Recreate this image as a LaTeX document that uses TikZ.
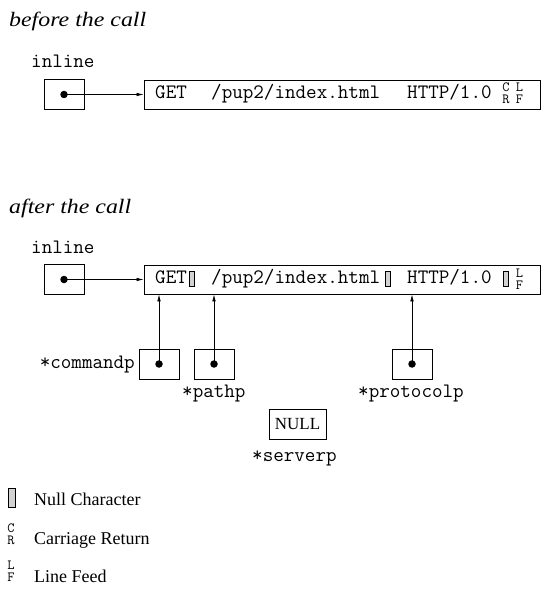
\documentclass[tikz,border=0pt]{standalone}
\usepackage{fontspec}
\setmainfont{Liberation Serif}
\usetikzlibrary{arrows.meta}
\begin{document}
\begin{tikzpicture}[x=1pt,y=-1pt,
 box/.style={draw, line width=0.8pt, inner sep=0},
 ptrbox/.style={box, minimum width=40pt, minimum height=30pt},
 ptrdot/.style={circle, fill, inner sep=0, minimum size=7.5pt},
 mono/.style={font=\fontsize{20.5}{22}\selectfont\ttfamily, inner sep=0, anchor=base west},
 tinyl/.style={font=\fontsize{14}{12}\selectfont\ttfamily, inner sep=0, align=center},
 head/.style={font=\fontsize{20.5}{24}\selectfont\itshape, inner sep=0, anchor=base west},
 legend/.style={font=\fontsize{18}{20}\selectfont, inner sep=0, anchor=base west},
 nullch/.style={draw, line width=0.5pt, fill=gray!35, inner sep=0, minimum width=5pt, minimum height=15pt},
 arr/.style={-{Latex[length=7pt,width=3.5pt]}, line width=0.6pt}]
\useasboundingbox (0,0) rectangle (551,601);
% before the call
\node[head] (h1) at (9,27) {\scalebox{1.165}[1]{before the call}};
\node[mono] (il1) at (31,68) {inline};
\node[ptrbox] (in1) at (64,94.5) {};
\node[ptrdot] (d1) at (in1.center) {};
\node[box, minimum width=396pt, minimum height=29pt] (s1) at (342,94.5) {};
\draw[arr] (d1.center) -- (d1.center -| s1.west);
\node[mono] (g1) at (155,98.5) {GET};
\node[mono] (p1) at (211,98.5) {/pup2/index.html};
\node[mono] (h1t) at (407,98.5) {HTTP/1.0};
\node[tinyl] (cr1) at (506,93.5) {C\\R};
\node[tinyl] (lf1) at (519.5,93.5) {L\\F};
% after the call
\node[head] (h2) at (9,214) {\scalebox{1.165}[1]{after the call}};
\node[mono] (il2) at (31,254) {inline};
\node[ptrbox] (in2) at (64,279.5) {};
\node[ptrdot] (d2) at (in2.center) {};
\node[box, minimum width=396pt, minimum height=29pt] (s2) at (342,279.5) {};
\draw[arr] (d2.center) -- (d2.center -| s2.west);
\node[mono] (g2) at (155,283.5) {GET};
\node[nullch] (n1) at (191.5,278.5) {};
\node[mono] (p2) at (211,283.5) {/pup2/index.html};
\node[nullch] (n2) at (387.5,278.5) {};
\node[mono] (h2t) at (407,283.5) {HTTP/1.0};
\node[nullch] (n3) at (505.5,278.5) {};
\node[tinyl] (lf2) at (519.5,279) {L\\F};
% pointers
\node[ptrbox] (cb) at (159,364) {};
\node[ptrdot] (cd) at (cb.center) {};
\node[ptrbox] (pb) at (214,364) {};
\node[ptrdot] (pd) at (pb.center) {};
\node[ptrbox] (qb) at (412,364) {};
\node[ptrdot] (qd) at (qb.center) {};
\draw[arr] (cd.center) -- (cd.center |- s2.south);
\draw[arr] (pd.center) -- (pd.center |- s2.south);
\draw[arr] (qd.center) -- (qd.center |- s2.south);
\node[mono, anchor=base east] (cl) at (135,368.5) {*commandp};
\node[mono] (pl) at (182,397.5) {*pathp};
\node[mono] (ql) at (358,397.5) {*protocolp};
\node[box, minimum width=57pt, minimum height=30pt, font=\fontsize{17}{19}\selectfont] (nb) at (297.5,424) {NULL};
\node[mono] (sl) at (252,461) {*serverp};
% legend
\node[nullch, minimum width=7pt, minimum height=19pt] (ln) at (11.5,497.5) {};
\node[legend] (lt1) at (34,505) {Null Character};
\node[tinyl] (lcr) at (11,534.5) {C\\R};
\node[legend] (lt2) at (34,544) {Carriage Return};
\node[tinyl] (llf) at (11,571) {L\\F};
\node[legend] (lt3) at (34,582) {Line Feed};
\end{tikzpicture}
\end{document}
